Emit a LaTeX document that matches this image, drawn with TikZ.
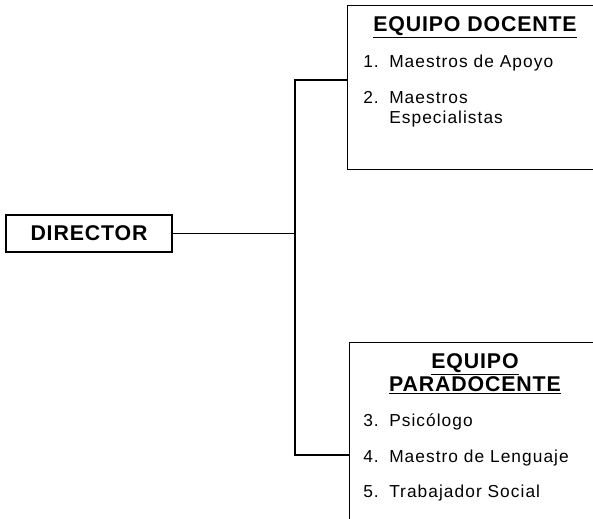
\documentclass[tikz,border=0pt]{standalone}
\usepackage{fontspec}
\setmainfont{Liberation Sans}
\newfontfamily\headfont[LetterSpace=4]{Liberation Sans}
\newfontfamily\entryfont[LetterSpace=6]{Liberation Sans}
\usetikzlibrary{positioning}

\tikzset{
  box/.style={draw, line width=0.9pt},
  head/.style={inner sep=0.75pt, font=\headfont\bfseries\fontsize{16}{19}\selectfont},
  entry/.style={anchor=base west, inner sep=0.75pt, align=left, font=\entryfont\fontsize{13}{14.5}\selectfont},
  link/.style={line width=0.9pt},
}
\newcommand{\numlbl}[1]{\makebox[19.5pt][l]{#1}}

\begin{document}
\begin{tikzpicture}[x=0.75pt,y=0.75pt,yscale=-1,xscale=1]
\useasboundingbox (0,0) rectangle (593,518);
\clip (0,0) rectangle (593,518);

%Director
\node[box, head, minimum width=124.5pt, minimum height=27.75pt] (director) at (89,233.5) {DIRECTOR};

%Boxes
\node[box, anchor=north west, minimum width=197.25pt, minimum height=123pt] (docente) at (347,5) {};
\node[box, anchor=north west, minimum width=195.75pt, minimum height=148.5pt] (paradocente) at (349,342) {};

%Connectors
\coordinate (split) at (295,233.5);
\coordinate (intop) at (docente.west |- 0,80);
\coordinate (inbot) at (paradocente.west |- 0,455);
\draw[link] (director.east) -- (split);
\draw[link] (intop) -| (split) |- (inbot);

% Text Node
\node[head, anchor=base] (docentehead) at (475,31) {\underline{EQUIPO DOCENTE}};
\node[entry] (apoyo) at (362,67) {\numlbl{1.}Maestros de Apoyo};
\node[entry] (especial) at (362,123) {\numlbl{2.}Maestros\\\numlbl{}Especialistas};

% Text Node
\node[head, anchor=base] (parahead) at (475,368) {\underline{EQUIPO}};
\node[head, anchor=base] (parahead2) at (475,391) {\underline{PARADOCENTE}};
\node[entry] (psico) at (362,426) {\numlbl{3.}Psicólogo};
\node[entry] (lenguaje) at (362,462) {\numlbl{4.}Maestro de Lenguaje};
\node[entry] (social) at (362,497) {\numlbl{5.}Trabajador Social};

\end{tikzpicture}
\end{document}
